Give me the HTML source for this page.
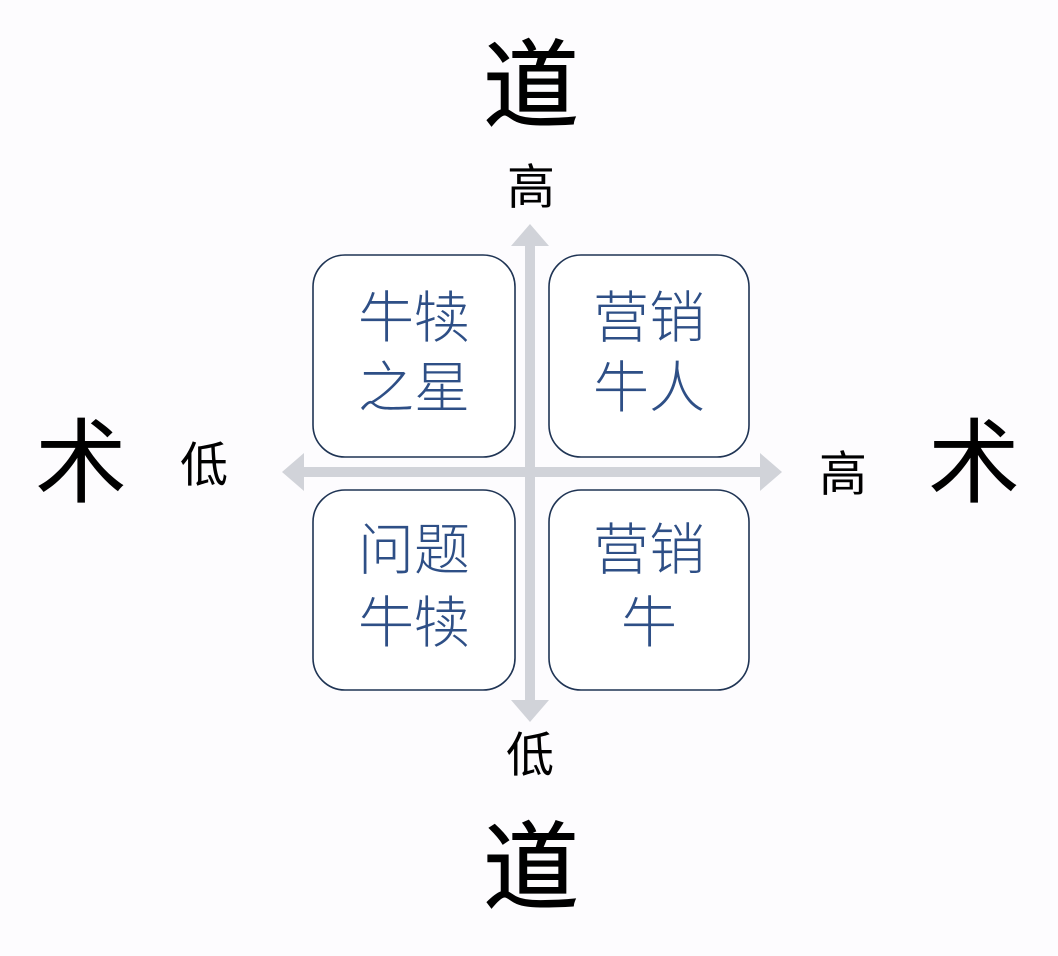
<!DOCTYPE html>
<html><head><meta charset="utf-8"><style>
html,body{margin:0;padding:0;background:#fdfcfe;}
svg{display:block}
text{font-family:"Liberation Sans","Noto Sans CJK SC",sans-serif;}
</style></head><body>
<svg width="1058" height="956" viewBox="0 0 1058 956" xmlns="http://www.w3.org/2000/svg">
<rect width="1058" height="956" fill="#fdfcfe"/>
<g fill="#d1d3d9">
<rect x="525" y="244" width="10" height="460"/>
<polygon points="530,224 549,246 511,246"/>
<polygon points="530,722 549,700 511,700"/>
<rect x="302" y="467" width="460" height="10"/>
<polygon points="282,472 304,453 304,491"/>
<polygon points="782,472 760,453 760,491"/>
</g>
<g fill="#fff" stroke="#1f3454" stroke-width="1.6">
<rect x="313" y="255" width="202" height="202" rx="32"/>
<rect x="549" y="255" width="200" height="202" rx="32"/>
<rect x="313" y="490" width="202" height="200" rx="32"/>
<rect x="549" y="490" width="200" height="200" rx="32"/>
</g>
<g fill="#2e4f86" font-size="56" font-weight="300" text-anchor="middle" dominant-baseline="central">
<text x="414" y="318">牛犊</text><text x="414" y="388">之星</text>
<text x="649" y="318">营销</text><text x="649" y="388">牛人</text>
<text x="414" y="550">问题</text><text x="414" y="623">牛犊</text>
<text x="649" y="550">营销</text><text x="649" y="623">牛</text>
</g>
<g fill="#000" text-anchor="middle" dominant-baseline="central">
<text x="531" y="87" font-size="96" stroke="#000" stroke-width="1">道</text>
<text x="531" y="869" font-size="96" stroke="#000" stroke-width="1">道</text>
<text x="81" y="464" font-size="92">术</text>
<text x="974" y="464" font-size="92">术</text>
<text x="531" y="188" font-size="48">高</text>
<text x="204" y="466" font-size="48">低</text>
<text x="843" y="475" font-size="48">高</text>
<text x="530" y="756" font-size="48">低</text>
</g>
</svg>
</body></html>
